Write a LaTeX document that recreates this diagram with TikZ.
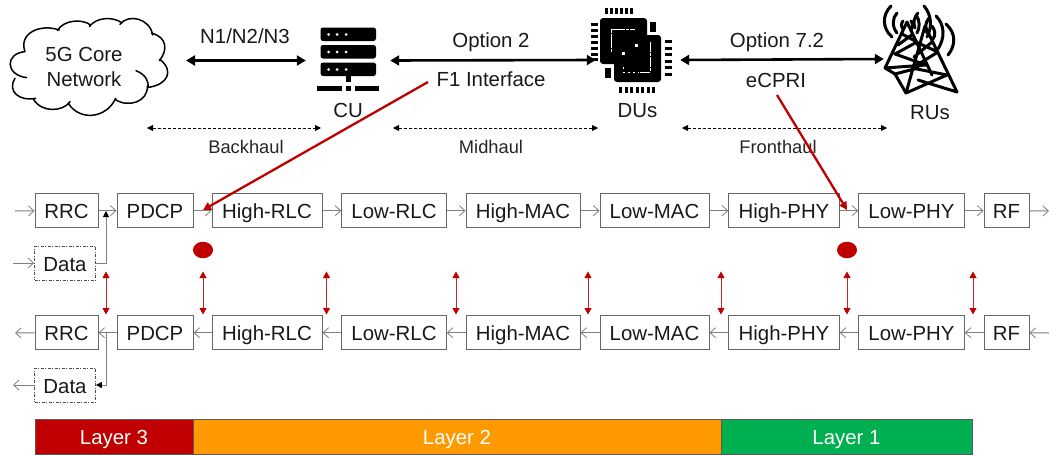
\documentclass[tikz,border=0pt]{standalone}
\usepackage{fontspec}
\setmainfont{Liberation Sans}
\usetikzlibrary{arrows.meta,calc,shapes.geometric}
\definecolor{gline}{HTML}{7F7F7F}
\definecolor{gbox}{HTML}{666666}
\definecolor{dred}{HTML}{C00000}
\definecolor{lorange}{HTML}{FF9900}
\definecolor{lgreen}{HTML}{00B050}
\tikzset{
  fbig/.style={font=\fontsize{20.4}{24}\selectfont},
  fsmall/.style={font=\fontsize{18.3}{22}\selectfont},
  label/.style={fbig,inner sep=0pt,text=black!90},
  smalllabel/.style={fsmall,inner sep=0pt,text=black!85},
  blockbox/.style={draw=gbox,line width=1pt,fill=white,fbig,inner sep=0pt,minimum height=34pt,text height=16pt,text depth=0pt,text=black!90},
  databox/.style={draw=black!70,line width=.8pt,dash pattern=on 3pt off 1.5pt on 1pt off 1.5pt,fill=white,fbig,inner sep=0pt,minimum height=34pt,minimum width=61pt,text height=16pt,text depth=0pt,text=black!90},
  layerbox/.style={draw=black!65,line width=1pt,fbig,inner sep=0pt,minimum height=35pt,text height=15.5pt,text depth=0pt,text=white},
  flow/.style={draw=gline,line width=1pt,-{Straight Barb[length=5.5pt,width=10pt,line width=.8pt]}},
  elbow/.style={draw=gline,line width=1pt,-{Triangle[length=6pt,width=6pt,color=black]}},
  link/.style={draw=black,line width=2.6pt,{Triangle[length=9pt,width=10pt]}-{Triangle[length=9pt,width=10pt]}},
  hauldash/.style={draw=black,line width=.8pt,densely dashed,{Triangle[length=6pt,width=6pt]}-{Triangle[length=6pt,width=6pt]}},
  pairarrow/.style={draw=dred!85,line width=.8pt,{Triangle[length=6.5pt,width=7pt,color=dred]}-{Triangle[length=6.5pt,width=7pt,color=dred]}},
  splitline/.style={draw=dred,line width=2.3pt,-{Triangle[length=8pt,width=8pt]}},
  icon/.style={inner sep=0pt,minimum height=40pt},
  splitdot/.style={ellipse,fill=dred,inner sep=0pt,minimum width=20pt,minimum height=16.5pt},
  towerline/.style={draw=black,line width=3pt,line cap=round,line join=round},
}
\begin{document}
\begin{tikzpicture}[x=1pt,y=-1pt]
\useasboundingbox (0,0) rectangle (1049,455);
\fill[white] (0,0) rectangle (1049,455);

% cloud (zoom coordinates / 3)
\begin{scope}[x=.3333pt,y=-.3333pt,line width=1.5pt,line cap=round]
\draw (75,155) .. controls (15,160) and (15,225) .. (80,233)
  (45,235) .. controls (20,275) and (60,305) .. (107,295)
  (100,297) .. controls (125,340) and (190,335) .. (210,305)
  (205,310) .. controls (240,365) and (320,355) .. (347,295)
  (345,298) .. controls (385,325) and (445,305) .. (442,258)
  (408,212) .. controls (440,225) and (445,245) .. (445,262)
    .. controls (500,255) and (525,215) .. (480,178)
  (478,182) .. controls (505,150) and (500,110) .. (455,100)
  (458,105) .. controls (450,55) and (385,40) .. (360,73)
  (365,68) .. controls (340,50) and (290,50) .. (268,80)
  (272,75) .. controls (245,55) and (190,60) .. (172,92)
  (178,90) .. controls (120,70) and (55,100) .. (75,155);
\end{scope}
\node[label,align=center] (core) at (84,67) {5G Core\\[1.5pt]Network};
\coordinate (coreport) at (186,60.5);

% CU server icon
\node[icon,minimum width=84pt] (cu) at (348,60.5) {};
\foreach \yy in {27.5,45,62.5}{
  \fill[black,rounded corners=2.5pt] (320.5,\yy) rectangle (376,\yy+13.5);
  \foreach \xx in {328.5,337,346}{\fill[white] (\xx,\yy+7) circle (1.5pt);}
}
\fill[black] (346,76) rectangle (350.5,82);
\fill[black] (317,86) rectangle (342,91);
\fill[black] (346,86) rectangle (350.5,91);
\fill[black] (355,86) rectangle (379,91);

% DU chip icon
\node[icon,minimum width=84pt] (du) at (638,60) {};
\foreach \xx in {605,610,615,620,625,630}{\fill[black] (\xx,8) rectangle ++(3,6);}
\foreach \xx in {619,624.5,630,635.5,641,646.5,652}{\fill[black] (\xx,86.5) rectangle ++(3,6);}
\foreach \yy in {22.5,28.5,34.5,40.5,46.5,52.5,58}{\fill[black] (591,\yy) rectangle ++(6.5,3);}
\foreach \yy in {40,46.5,53,59.5,66,72.5}{\fill[black] (665,\yy) rectangle ++(6.5,3);}
\fill[black] (650,22) rectangle (656,32);
\fill[black] (605,68) rectangle (611,78);
\fill[black,rounded corners=3pt] (600,18) rectangle (647,64);
\fill[black,rounded corners=3pt] (614,35) rectangle (661,82);
\draw[white,line width=1pt,dash pattern=on 3pt off 1pt on 14pt off 1pt] (611,52) -- (611,29) -- (635,29);
\draw[white,line width=1pt,dash pattern=on 10pt off 1pt on 3pt off 1pt] (650,42) -- (650,72) -- (638,72);
\draw[white,line width=1pt,dash pattern=on 2pt off 3pt] (635,72) -- (623,72) -- (623,64);
\fill[white] (622,52) rectangle +(3,3);
\fill[white] (635,43.5) rectangle +(3,3);

% RU tower icon: radio waves and two overlapping masts, in picture pixels
\node[icon,minimum width=84pt] (ru) at (926,59) {};
\path[towerline]
  (891,6) .. controls (882,15) and (882,28) .. (892,37)
  (897,13) .. controls (892,18) and (892,27) .. (897,33)
  (903,21) .. controls (901,23) and (901,27) .. (903,29)
  (911,21) .. controls (913,23) and (913,27) .. (911,30)
  (916,15) .. controls (920,20) and (920,28) .. (917,33)
  (924,6) .. controls (932,15) and (932,28) .. (927,37)
  (918,13) .. controls (914,17) and (913,23) .. (915,28)
  (929,18) .. controls (925,23) and (925,28) .. (927,33)
  (936,16) .. controls (945,25) and (945,38) .. (938,49)
  (946,24) .. controls (956,33) and (956,45) .. (948,55)
  (932,26) .. controls (935,30) and (936,35) .. (933,39);
\path[towerline]
  (907,22) -- (885,68)  (907,22) -- (932,75)
  (902,34) -- (917,42) -- (895,54) -- (926,65) -- (885,68)
  (913,34) -- (898,45)
  (885,68) -- (895,74) -- (906,93)  (895,74) -- (918,68);
\path[towerline]
  (925,26) -- (906,93)  (925,26) -- (957,92)
  (918,43) -- (938,52) -- (912,68) -- (947,75) -- (906,93)
  (932,42) -- (914,57)
  (918,80) -- (957,92);

% top labels
\node[label] (n123) at (245,36) {N1/N2/N3};
\node[label] (opt2) at (491,42) {Option 2};
\node[label] (f1) at (491,79) {F1 Interface};
\node[label] (cutext) at (348,110) {CU};
\node[label] (dutext) at (637.5,111) {DUs};
\node[label] (opt72) at (777,42) {Option 7.2};
\node[label] (ecpri) at (776,80) {eCPRI};
\node[label] (rutext) at (930,113) {RUs};
\node[smalllabel] (back) at (246,147) {Backhaul};
\node[smalllabel] (mid) at (491,147) {Midhaul};
\node[smalllabel] (front) at (778,147) {Fronthaul};

\draw[link] (coreport) -- (cu.west);
\draw[link] (cu.east) -- (du.west);
\draw[link] (du.east) -- (ru.west);

\coordinate (ba) at (147,128); \coordinate (bb) at (321,128);
\coordinate (ma) at (393,128); \coordinate (mb) at (598,128);
\coordinate (fa) at (682,128); \coordinate (fb) at (887,128);
\draw[hauldash] (ba) -- (bb);
\draw[hauldash] (ma) -- (mb);
\draw[hauldash] (fa) -- (fb);

% block rows
\foreach \nm/\cx/\bw/\txt in {rrc/66.5/63/RRC,pdcp/155/76/PDCP,hrlc/267/110/High-RLC,lrlc/394/104.5/Low-RLC,hmac/523/114/High-MAC,lmac/654.5/109/Low-MAC,hphy/784/110.5/High-PHY,lphy/911.5/105.5/Low-PHY,rf/1006.5/45/RF}{
  \node[blockbox,minimum width=\bw pt] (u\nm) at (\cx,210.7) {\txt};
  \node[blockbox,minimum width=\bw pt] (d\nm) at (\cx,332.7) {\txt};
}
\node[databox] (udata) at (65,263) {Data};
\node[databox] (ddata) at (65,385) {Data};

% free ends
\coordinate (uin) at (15,211);
\coordinate (uout) at (1049,211);
\coordinate (din) at (1049,333);
\coordinate (dout) at (15,333);
\coordinate (dataIn) at (13,263);
\coordinate (dataOut) at (13,385);
\coordinate (ujoin) at (106,211);
\coordinate (djoin) at (106,333);

\draw[flow] (uin) -- (urrc);
\draw[flow] (urrc) -- (updcp);
\draw[flow] (updcp) -- (uhrlc);
\draw[flow] (uhrlc) -- (ulrlc);
\draw[flow] (ulrlc) -- (uhmac);
\draw[flow] (uhmac) -- (ulmac);
\draw[flow] (ulmac) -- (uhphy);
\draw[flow] (uhphy) -- (ulphy);
\draw[flow] (ulphy) -- (urf);
\draw[flow] (urf) -- (uout);
\draw[flow] (din) -- (drf);
\draw[flow] (drf) -- (dlphy);
\draw[flow] (dlphy) -- (dhphy);
\draw[flow] (dhphy) -- (dlmac);
\draw[flow] (dlmac) -- (dhmac);
\draw[flow] (dhmac) -- (dlrlc);
\draw[flow] (dlrlc) -- (dhrlc);
\draw[flow] (dhrlc) -- (dpdcp);
\draw[flow] (dpdcp) -- (drrc);
\draw[flow] (drrc) -- (dout);
\draw[flow] (dataIn) -- (udata);
\draw[flow] (ddata) -- (dataOut);
\draw[elbow] (udata.east) -| (ujoin);
\draw[elbow] (djoin) |- (ddata.east);

% red split markers
\node[splitdot] (dotA) at (203,250) {};
\node[splitdot] (dotB) at (847,250) {};
\foreach \i/\xx in {1/106,2/203,3/326.5,4/456,5/588,6/721,7/847,8/973}{
  \coordinate (pa\i) at (\xx,271.5);
  \coordinate (pb\i) at (\xx,314.5);
  \draw[pairarrow] (pa\i) -- (pb\i);
}

% split pointers
\coordinate (f1tail) at (428,82);
\coordinate (f1tip) at (203,210);
\coordinate (ectail) at (777,95);
\coordinate (ectip) at (847,210);
\draw[splitline] (f1tail) -- (f1tip);
\draw[splitline] (ectail) -- (ectip);

% layer bar
\node[layerbox,fill=dred,minimum width=158pt] (l3) at (114,436.5) {Layer 3};
\node[layerbox,fill=lorange,minimum width=528pt] (l2) at (457,436.5) {Layer 2};
\node[layerbox,fill=lgreen,minimum width=251pt] (l1) at (846.5,436.5) {Layer 1};
\end{tikzpicture}
\end{document}
